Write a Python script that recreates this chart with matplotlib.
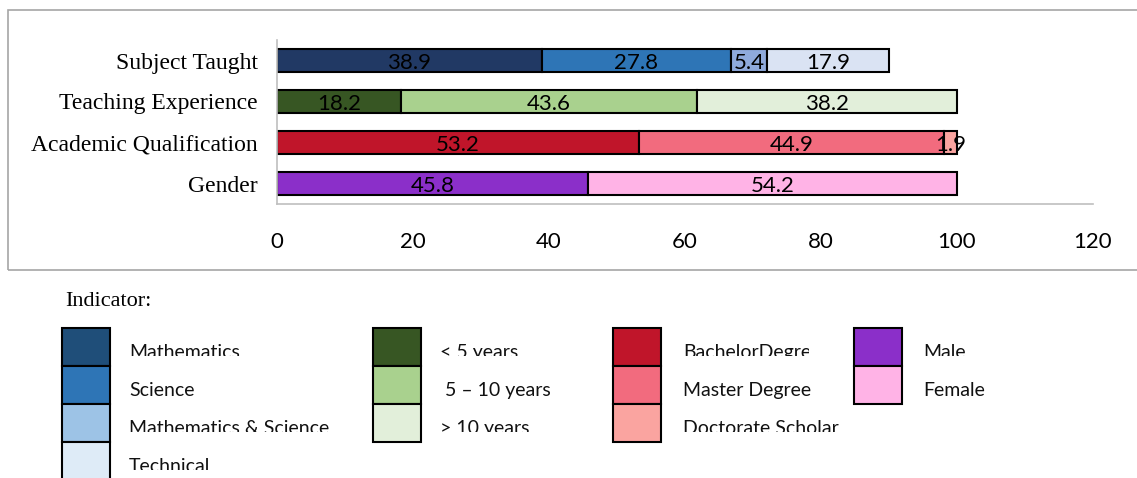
import matplotlib
matplotlib.use("Agg")
import matplotlib.pyplot as plt
from matplotlib.patches import Rectangle
from matplotlib.transforms import Bbox

# ---------------- data ----------------
categories = ["Subject Taught", "Teaching Experience", "Academic Qualification", "Gender"]

subject_labels = ["Mathematics", "Science", "Mathematics & Science", "Technical"]
subject_vals = [38.9, 27.8, 5.4, 17.9]
experience_labels = ["< 5 years", " 5 \u2013 10 years", "> 10 years"]
experience_vals = [18.2, 43.6, 38.2]
qualification_labels = ["BachelorDegree", "Master Degree", "Doctorate Scholar"]
qualification_vals = [53.2, 44.9, 1.9]
gender_labels = ["Male", "Female"]
gender_vals = [45.8, 54.2]

xticks = [0, 20, 40, 60, 80, 100, 120]

subject_colors = ["#213964", "#2E75B6", "#8FAADC", "#DAE3F3"]
experience_colors = ["#375623", "#A9D18E", "#E2EFDA"]
qualification_colors = ["#C0152A", "#F26B7E", "#FAA4A0"]
gender_colors = ["#8B2FC9", "#FFB3E6"]

subject_legend_colors = ["#1F4E79", "#2E75B6", "#9DC3E6", "#DEEBF7"]

W, H = 1137, 478
fig = plt.figure(figsize=(W / 100, H / 100), dpi=100)

def fx(px):
    return px / W

def fy(py):
    return 1 - py / H

# outer gray frame
fig.patches.append(Rectangle((fx(8), fy(270)), 1.2, fy(10) - fy(270), transform=fig.transFigure,
                             fill=False, edgecolor="#A6A6A6", linewidth=1.2, zorder=0))

ax = fig.add_axes([fx(277), fy(204), fx(1093) - fx(277), fy(40) - fy(204)])
ax.set_facecolor("none")

groups = [
    (subject_vals, subject_colors),
    (experience_vals, experience_colors),
    (qualification_vals, qualification_colors),
    (gender_vals, gender_colors),
]
ypos = [3, 2, 1, 0]
for (vals, cols), y in zip(groups, ypos):
    left = 0.0
    for v, c in zip(vals, cols):
        bars = ax.barh(y, v, left=left, height=0.58, color=c, edgecolor="black", linewidth=1.5, zorder=2)
        anns = ax.bar_label(bars, labels=[f"{v:.1f}"], label_type="center", fontsize=16,
                            family="Lato", color="black", zorder=3)
        for a in anns:
            a.xyann = (0, -1.5)
        left += v

ax.set_xlim(0, 120)
ax.set_ylim(-0.5, 3.5)
ax.set_xticks(xticks)
ax.set_xticklabels([str(t) for t in xticks], fontsize=16, family="Lato")
ax.set_yticks(ypos)
ax.set_yticklabels(categories, fontsize=17, family="Liberation Serif")
ax.tick_params(axis="both", length=0)
ax.tick_params(axis="x", pad=20)
ax.tick_params(axis="y", pad=14)
for s in ["top", "right"]:
    ax.spines[s].set_visible(False)
for s in ["left", "bottom"]:
    ax.spines[s].set_color("#BFBFBF")
    ax.spines[s].set_linewidth(1.2)

# ---------------- legend ----------------
fig.text(fx(65), fy(301), "Indicator:", fontsize=16, family="Liberation Serif",
         va="center", ha="left")

legend_cols = [
    (subject_labels, subject_legend_colors, 62, 129),
    (experience_labels, experience_colors, 373, 440),
    (qualification_labels, qualification_colors, 613, 683),
    (gender_labels, gender_colors, 854, 923),
]
row_top = [328, 366, 404, 442]
row_clip = [356, None, 432, 470]
box_h = 38
box_w = 48
for labels, cols, bx, tx in legend_cols:
    for i, (lab, c) in enumerate(zip(labels, cols)):
        fig.patches.append(Rectangle((fx(bx), fy(row_top[i] + box_h)), fx(bx + box_w) - fx(bx),
                                     fy(row_top[i]) - fy(row_top[i] + box_h),
                                     transform=fig.transFigure, facecolor=c,
                                     edgecolor="black", linewidth=1.5, zorder=1))
        t = fig.text(fx(tx), fy(row_top[i] + 30), lab, fontsize=14, family="Lato",
                     va="baseline", ha="left", color="#111111")
        clip_bottom = row_clip[i]
        clip_right = 809 if lab == "BachelorDegree" else W
        if clip_bottom is not None or clip_right < W:
            cb = clip_bottom if clip_bottom is not None else H
            t.set_clip_box(Bbox.from_extents(0, H - cb, clip_right, H))
            t.set_clip_on(True)

fig.savefig("out.png", dpi=100)
